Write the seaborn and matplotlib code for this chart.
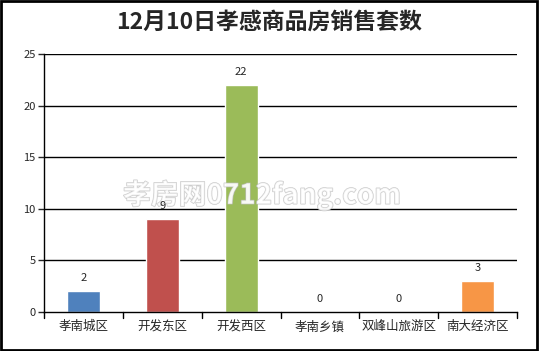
import matplotlib
matplotlib.use("Agg")
import matplotlib.pyplot as plt
import matplotlib.patheffects as pe
import seaborn as sns
import pandas as pd
from matplotlib.patches import Rectangle

categories = ["孝南城区", "开发东区", "开发西区", "孝南乡镇", "双峰山旅游区", "南大经济区"]
values = [2, 9, 22, 0, 0, 3]
colors = ["#4F81BD", "#C0504D", "#9BBB59", "#8064A2", "#4BACC6", "#F79646"]
yticks = [0, 5, 10, 15, 20, 25]
title = "12月10日孝感商品房销售套数"

sns.set_style("white")
plt.rcParams['font.family'] = ['Noto Sans CJK SC', 'DejaVu Sans']

df = pd.DataFrame({"cat": categories, "val": values})

fig = plt.figure(figsize=(5.39, 3.51), dpi=100)
ax = fig.add_axes([44/539, 1 - 312/351, (517-44)/539, (312-54)/351])

sns.barplot(data=df, x="cat", y="val", hue="cat", palette=colors, legend=False,
            width=0.42, saturation=1, ax=ax)

ax.set_ylim(0, 25)
ax.set_xlim(-0.5, 5.5)
ax.set_yticks(yticks)
ax.set_yticklabels([str(t) for t in yticks], fontsize=8)
for t in yticks[1:]:
    ax.axhline(t, color="black", lw=1, zorder=0)
ax.set_xlabel("")
ax.set_ylabel("")
ax.set_xticks(range(len(categories)))
ax.set_xticklabels(categories, fontsize=9)
ax.tick_params(axis="x", length=0, pad=6)
ax.tick_params(axis="y", length=4, width=1, direction="out", left=True, pad=2)
for b in [i - 0.5 for i in range(len(categories) + 1)]:
    ax.plot([b, b], [0, -0.025], transform=ax.get_xaxis_transform(), color="black",
            lw=1, clip_on=False)

for s in ["top", "right"]:
    ax.spines[s].set_visible(False)
for s in ["left", "bottom"]:
    ax.spines[s].set_color("black")
    ax.spines[s].set_linewidth(1)

ax.text(262/539, 1 - 195/351, "孝房网0712fang.com", transform=fig.transFigure,
        ha="center", va="center", fontsize=20, color="white", alpha=0.75,
        fontweight="bold", zorder=4,
        path_effects=[pe.withStroke(linewidth=1.0, foreground="#BBBBBB")])

for p in ax.patches:
    if not hasattr(p, "get_height"):
        continue
    xc = p.get_x() + p.get_width() / 2
    h = p.get_height()
    idx = int(round(xc))
    ax.annotate(str(values[idx]), (xc, h), xytext=(0, 6), textcoords="offset points",
                ha="center", va="bottom", fontsize=8, zorder=6)

fig.text(0.5, 1 - 22/351, title, ha="center", va="center", fontsize=16.5,
         fontweight="bold")

fig.patches.append(Rectangle((0.002, 0.003), 0.994, 0.994, transform=fig.transFigure,
                             fill=False, edgecolor="black", lw=2))

fig.savefig("out.png", dpi=100)
